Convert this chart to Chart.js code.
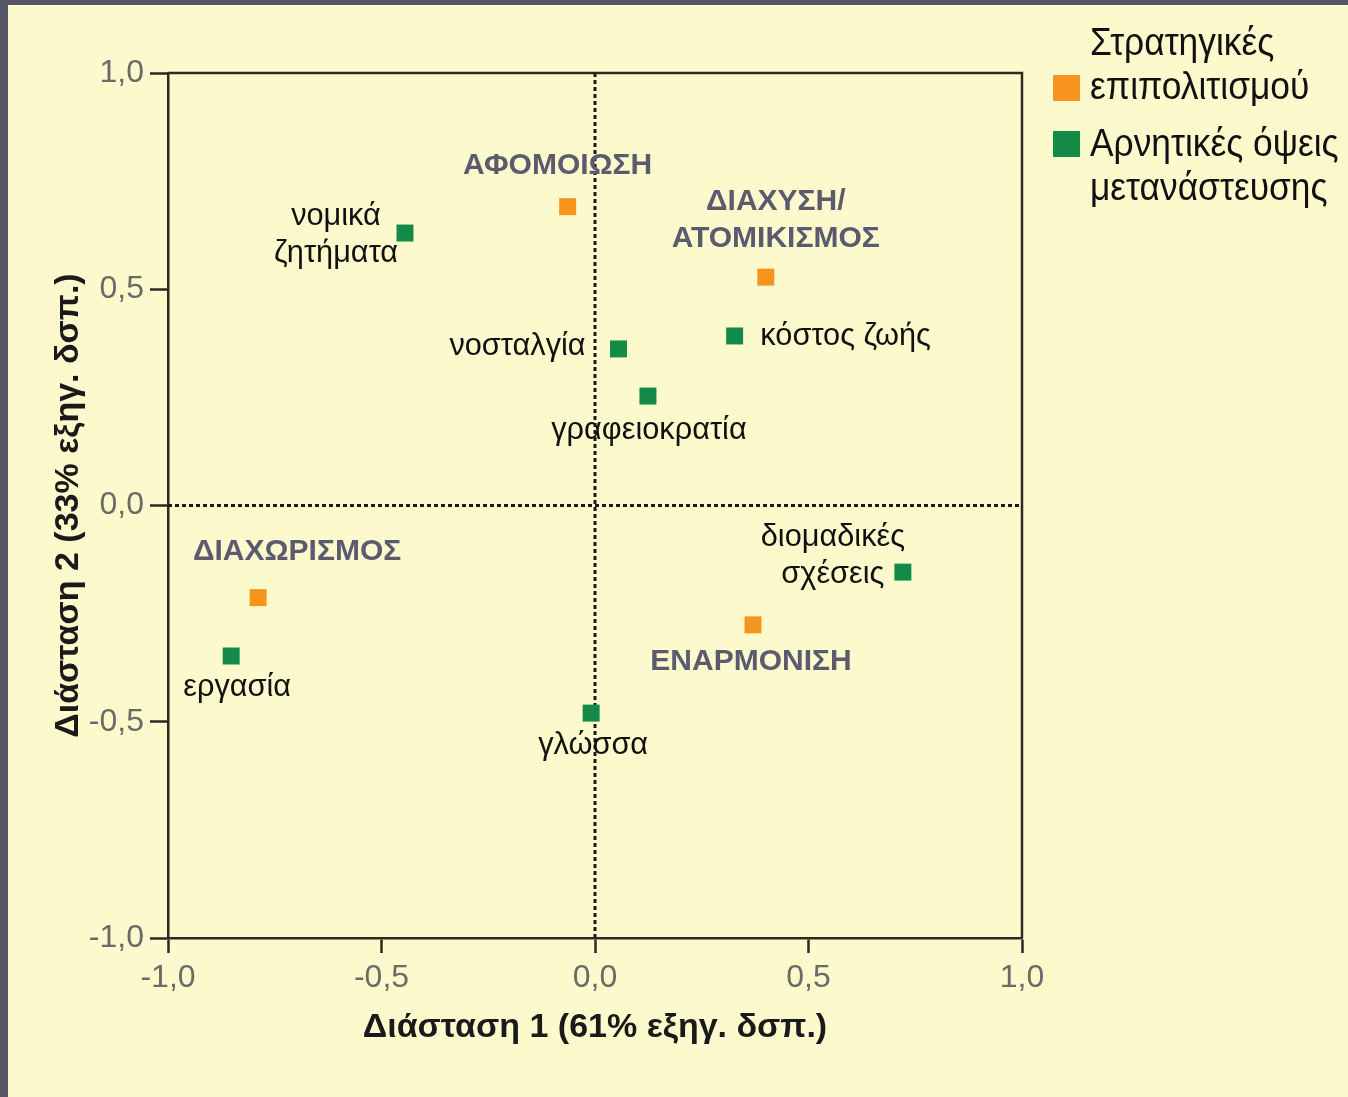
<!DOCTYPE html>
<html lang="el">
<head>
<meta charset="utf-8">
<script src="https://cdn.jsdelivr.net/npm/chart.js@4.4.0/dist/chart.umd.min.js"></script>
<style>
  html, body { margin: 0; padding: 0; width: 1348px; height: 1097px; overflow: hidden; background: #555767; }
  #panel { position: absolute; left: 8px; top: 5px; width: 1340px; height: 1092px; background: #fcfacc; }
  #panel canvas { position: absolute; left: 0; top: 0; }
  .lg { position: absolute; font-family: 'Liberation Sans', Arial, sans-serif;
        font-size: 38px; line-height: 44px; color: #111; white-space: nowrap;
        transform: scaleX(0.93); transform-origin: left top; }
  .sw { position: absolute; width: 27px; height: 26px; }
</style>
</head>
<body>
<div id="panel">
  <canvas id="map-chart" width="1340" height="1092"></canvas>
  <div class="sw" style="left:1045px; top:70px; background:#f7941e;"></div>
  <div class="lg" style="left:1082px; top:15px;">Στρατηγικές<br>επιπολιτισμού</div>
  <div class="sw" style="left:1045px; top:126px; background:#148a47;"></div>
  <div class="lg" style="left:1082px; top:116px;">Αρνητικές όψεις<br>μετανάστευσης</div>
</div>
<script>
// data
const seriesNames = ['Στρατηγικές επιπολιτισμού', 'Αρνητικές όψεις μετανάστευσης'];

const strategyNames = ['ΑΦΟΜΟΙΩΣΗ', 'ΔΙΑΧΥΣΗ/\nΑΤΟΜΙΚΙΣΜΟΣ', 'ΔΙΑΧΩΡΙΣΜΟΣ', 'ΕΝΑΡΜΟΝΙΣΗ'];
const strategyDim1 = [-0.064, 0.400, -0.789, 0.370];
const strategyDim2 = [0.691, 0.528, -0.213, -0.276];

const aspectNames = ['νομικά\nζητήματα', 'νοσταλγία', 'γραφειοκρατία', 'κόστος ζωής', 'διομαδικές\nσχέσεις', 'εργασία', 'γλώσσα'];
const aspectDim1 = [-0.445, 0.055, 0.124, 0.327, 0.721, -0.852, -0.009];
const aspectDim2 = [0.630, 0.362, 0.253, 0.392, -0.154, -0.348, -0.480];

const axisTicks = [-1.0, -0.5, 0.0, 0.5, 1.0];

// where each label sits relative to its point (first line centre, px)
const strategyLabelPos = [[-10, -41], [10, -75], [39, -46], [-2, 37]];
const aspectLabelPos = [[-69, -17], [-101, -3], [1, 34], [111, 0], [-70, -35], [6, 31], [2, 32]];

const toPoints = (xs, ys) => xs.map((x, i) => ({ x: x, y: ys[i] }));
const fmt = v => v.toFixed(1).replace('.', ',');

const overlay = {
    id: 'overlay',
    beforeDatasetsDraw(chart) {
        const { ctx, chartArea: a, scales } = chart;
        const x0 = scales.x.getPixelForValue(0);
        const y0 = scales.y.getPixelForValue(0);
        ctx.save();
        ctx.strokeStyle = '#1a1a1a';
        ctx.lineWidth = 3;
        ctx.setLineDash([4, 3]);
        ctx.beginPath();
        ctx.moveTo(x0, a.top); ctx.lineTo(x0, a.bottom);
        ctx.moveTo(a.left, y0); ctx.lineTo(a.right, y0);
        ctx.stroke();
        ctx.setLineDash([]);
        ctx.strokeStyle = '#2a2a22';
        ctx.lineWidth = 2.5;
        ctx.beginPath();
        ctx.moveTo(a.left, a.top); ctx.lineTo(a.right, a.top); ctx.lineTo(a.right, a.bottom);
        ctx.stroke();
        ctx.restore();
    },
    afterDatasetsDraw(chart) {
        const ctx = chart.ctx;
        const groups = [
            { names: strategyNames, pos: strategyLabelPos, font: 'bold 30px "Liberation Sans", Arial, sans-serif', color: '#5a5b6e', lh: 37, sx: 1 },
            { names: aspectNames, pos: aspectLabelPos, font: '32px "Liberation Sans", Arial, sans-serif', color: '#111', lh: 37, sx: 0.96 }
        ];
        ctx.save();
        ctx.textAlign = 'center';
        ctx.textBaseline = 'middle';
        groups.forEach((g, di) => {
            const meta = chart.getDatasetMeta(di);
            ctx.font = g.font;
            ctx.fillStyle = g.color;
            meta.data.forEach((pt, i) => {
                const lines = g.names[i].split('\n');
                lines.forEach((line, k) => {
                    ctx.save();
                    ctx.translate(pt.x + g.pos[i][0], pt.y + g.pos[i][1] + k * g.lh);
                    ctx.scale(g.sx, 1);
                    ctx.fillText(line, 0, 0);
                    ctx.restore();
                });
            });
        });
        ctx.restore();
    }
};

window.onload = function () {
    let ctx = document.getElementById('map-chart').getContext('2d');
    let mapChart = new Chart(ctx, {
        type: 'scatter',
        data: {
            datasets: [{
                label: seriesNames[0],
                data: toPoints(strategyDim1, strategyDim2),
                pointStyle: 'rect',
                pointRadius: 12,
                backgroundColor: '#f7941e',
                borderColor: '#f7941e',
                borderWidth: 0
            }, {
                label: seriesNames[1],
                data: toPoints(aspectDim1, aspectDim2),
                pointStyle: 'rect',
                pointRadius: 12,
                backgroundColor: '#148a47',
                borderColor: '#148a47',
                borderWidth: 0
            }]
        },
        options: {
            responsive: false,
            animation: false,
            layout: { padding: { left: 40, top: 68, right: 326, bottom: 0 } },
            plugins: {
                legend: { display: false },
                tooltip: { enabled: false }
            },
            scales: {
                x: {
                    type: 'linear',
                    min: -1, max: 1,
                    afterBuildTicks: s => { s.ticks = axisTicks.map(v => ({ value: v })); },
                    afterFit: s => { s.height = 159; },
                    ticks: {
                        callback: v => fmt(v),
                        color: '#6a6a66',
                        font: { family: '"Liberation Sans", Arial, sans-serif', size: 32 },
                        padding: 6,
                        maxRotation: 0
                    },
                    grid: { drawOnChartArea: false, tickLength: 15, tickColor: '#2a2a22', tickWidth: 2.5 },
                    border: { color: '#2a2a22', width: 2.5 },
                    title: {
                        display: true,
                        text: 'Διάσταση 1 (61% εξηγ. δσπ.)',
                        color: '#1a1a1a',
                        font: { family: '"Liberation Sans", Arial, sans-serif', size: 34, weight: 'bold' },
                        padding: { top: 0, bottom: 49 }
                    }
                },
                y: {
                    type: 'linear',
                    min: -1, max: 1,
                    afterBuildTicks: s => { s.ticks = axisTicks.map(v => ({ value: v })); },
                    afterFit: s => { s.width = 120; },
                    ticks: {
                        callback: v => fmt(v),
                        color: '#6a6a66',
                        font: { family: '"Liberation Sans", Arial, sans-serif', size: 32 },
                        padding: 6
                    },
                    grid: { drawOnChartArea: false, tickLength: 18, tickColor: '#2a2a22', tickWidth: 2.5 },
                    border: { color: '#2a2a22', width: 2.5 },
                    title: {
                        display: true,
                        text: 'Διάσταση 2 (33% εξηγ. δσπ.)',
                        color: '#1a1a1a',
                        font: { family: '"Liberation Sans", Arial, sans-serif', size: 34, weight: 'bold' },
                        padding: { top: 0, bottom: 0 }
                    }
                }
            }
        },
        plugins: [overlay]
    });
};
</script>
</body>
</html>
